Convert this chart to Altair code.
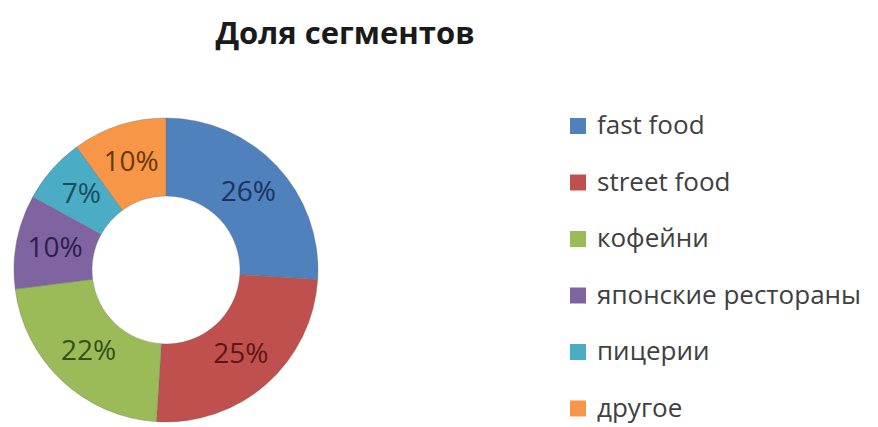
import altair as alt
import pandas as pd

categories = ["fast food", "street food", "кофейни", "японские рестораны", "пицерии", "другое"]
values = [26, 25, 22, 10, 7, 10]
labels = ["26%", "25%", "22%", "10%", "7%", "10%"]
colors = ["#4F81BD", "#C0504D", "#9BBB59", "#8064A2", "#4BACC6", "#F79646"]
label_colors = ["#1B3560", "#5C1816", "#34501A", "#2E1E4C", "#174F5E", "#6A3808"]
title_text = "Доля сегментов"

df = pd.DataFrame({
    "cat": categories,
    "value": values,
    "label": labels,
    "lc": label_colors,
    "idx": list(range(len(categories))),
})

W, H = 862, 411
cx, cy = 158, 262

base = alt.Chart(df).encode(
    theta=alt.Theta("value:Q", stack=True),
    order=alt.Order("idx:Q"),
)

arcs = base.mark_arc(
    outerRadius=152, innerRadius=74, stroke="#6b6b6b", strokeWidth=0.6, strokeOpacity=0.6
).encode(
    x=alt.value(cx), y=alt.value(cy),
    color=alt.Color(
        "cat:N",
        scale=alt.Scale(domain=categories, range=colors),
        sort=categories,
        legend=alt.Legend(
            title=None,
            orient="none",
            legendX=557,
            legendY=105,
            symbolType="square",
            symbolSize=256,
            symbolStrokeWidth=0,
            labelFontSize=26,
            labelFont="Open Sans",
            labelColor="#404040",
            labelOffset=6,
            rowPadding=30.5,
            labelLimit=400,
        ),
    ),
)

texts = base.mark_text(
    radius=113, fontSize=28, font="Open Sans"
).encode(
    x=alt.value(cx), y=alt.value(cy),
    text="label:N",
    color=alt.Color("lc:N", scale=None),
)

title = alt.Chart(pd.DataFrame({"t": [title_text]})).mark_text(
    fontSize=31, fontWeight="bold", font="Open Sans", color="#1a1a1a", baseline="middle"
).encode(
    text="t:N", x=alt.value(337), y=alt.value(27)
)

chart = alt.layer(arcs, texts, title).properties(
    width=W, height=H, padding=0
).configure_view(stroke=None)

chart.save("out.html", embed_options={"renderer": "svg", "actions": False})
